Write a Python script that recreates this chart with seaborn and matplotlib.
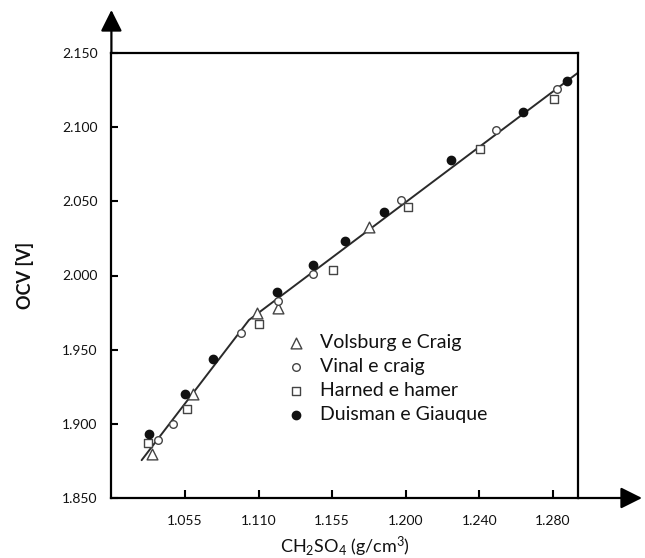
import numpy as np
import pandas as pd
import matplotlib
matplotlib.use("Agg")
import matplotlib.pyplot as plt
import seaborn as sns

# ---------------- data ----------------
X_TICKS = [1.055, 1.110, 1.155, 1.200, 1.240, 1.280]
X_TICK_LABELS = ["1.055", "1.110", "1.155", "1.200", "1.240", "1.280"]
Y_TICKS = [1.850, 1.900, 1.950, 2.000, 2.050, 2.100, 2.150]
Y_TICK_LABELS = ["1.850", "1.900", "1.950", "2.000", "2.050", "2.100", "2.150"]
X_MIN, X_MAX = 1.000, 1.2936
Y_MIN, Y_MAX = 1.850, 2.150

SERIES = ["Volsburg e Craig", "Vinal e craig", "Harned e hamer", "Duisman e Giauque"]

VOLSBURG_X = [1.0306, 1.0612, 1.1086, 1.1221, 1.1777]
VOLSBURG_Y = [1.880, 1.920, 1.975, 1.978, 2.033]
VINAL_X = [1.0350, 1.0463, 1.0966, 1.1217, 1.1434, 1.1971, 1.2488, 1.2820]
VINAL_Y = [1.889, 1.900, 1.961, 1.983, 2.001, 2.051, 2.098, 2.126]
HARNED_X = [1.0276, 1.0567, 1.1104, 1.1557, 1.2010, 1.2403, 1.2806]
HARNED_Y = [1.887, 1.910, 1.967, 2.004, 2.046, 2.085, 2.119]
DUISMAN_X = [1.0281, 1.0550, 1.0762, 1.1211, 1.1434, 1.1628, 1.1869, 1.2246, 1.2635, 1.2874]
DUISMAN_Y = [1.893, 1.920, 1.944, 1.989, 2.007, 2.023, 2.043, 2.078, 2.110, 2.131]
FIT_X = [1.0226, 1.1028, 1.2936]
FIT_Y = [1.8755, 1.970, 2.1367]

# ---------------- style ----------------
sns.set_style("white")
plt.rcParams["font.family"] = ["Lato", "DejaVu Sans"]
plt.rcParams["mathtext.fontset"] = "custom"
plt.rcParams["mathtext.rm"] = "Lato"
plt.rcParams["mathtext.it"] = "Lato:italic"
plt.rcParams["mathtext.bf"] = "Lato:bold"
TXT = "#111111"

fig = plt.figure(figsize=(6.45, 5.58), dpi=100)
ax = fig.add_axes([111.4 / 645, 1 - 498 / 558, (578 - 111.4) / 645, (498 - 53) / 558])

# evenly spaced tick scale (ticks are equidistant on the axis)
kd = np.array([X_MIN] + X_TICKS, dtype=float)
kp = np.arange(len(kd), dtype=float)


def _lin(x, a, b):
    x = np.asarray(x, dtype=float)
    y = np.interp(x, a, b)
    y = np.where(x < a[0], b[0] + (x - a[0]) * (b[1] - b[0]) / (a[1] - a[0]), y)
    y = np.where(x > a[-1], b[-1] + (x - a[-1]) * (b[-1] - b[-2]) / (a[-1] - a[-2]), y)
    return y


ax.set_xscale("function", functions=(lambda x: _lin(x, kd, kp), lambda p: _lin(p, kp, kd)))

# fit line
sns.lineplot(x=FIT_X, y=FIT_Y, ax=ax, color="#2a2a2a", linewidth=1.4, zorder=2,
             estimator=None, sort=False, legend=False)

specs = [
    (VOLSBURG_X, VOLSBURG_Y, "^", "white", "#444444", 60),
    (VINAL_X, VINAL_Y, "o", "white", "#444444", 30),
    (HARNED_X, HARNED_Y, "s", "white", "#444444", 32),
    (DUISMAN_X, DUISMAN_Y, "o", "#111111", "#111111", 36),
]
for name, (xs, ys, mk, fc, ec, s) in zip(SERIES, specs):
    df = pd.DataFrame({"x": xs, "y": ys})
    sns.scatterplot(data=df, x="x", y="y", ax=ax, marker=mk, s=s, facecolor=fc,
                    edgecolor=ec, linewidth=1.0, zorder=3, label=name)

ax.set_xlim(X_MIN, X_MAX)
ax.set_ylim(Y_MIN, Y_MAX)
ax.set_xticks(X_TICKS)
ax.set_xticklabels(X_TICK_LABELS)
ax.xaxis.set_minor_locator(matplotlib.ticker.NullLocator())
ax.set_yticks(Y_TICKS)
ax.set_yticklabels(Y_TICK_LABELS)

for sp in ax.spines.values():
    sp.set_visible(True)
    sp.set_color("black")
    sp.set_linewidth(1.6)

ax.tick_params(axis="x", direction="in", length=6, width=1.5, pad=12, labelsize=10,
               colors="black", labelcolor=TXT, bottom=True)
ax.tick_params(axis="y", direction="in", length=5, width=1.5, pad=10, labelsize=10,
               colors="black", labelcolor=TXT, left=True)

ax.set_xlabel(r"CH$_2$SO$_4$ (g/cm$^3$)", fontsize=13, color=TXT, labelpad=6)
ax.set_ylabel("OCV [V]", fontsize=13, fontweight="bold", color=TXT, labelpad=20)

# axis arrows
ax.annotate("", xy=(0, 1 + 43 / 445), xytext=(0, 1), xycoords="axes fraction",
            arrowprops=dict(arrowstyle="-|>,head_length=1.0,head_width=0.5", color="black",
                            lw=1.6, shrinkA=0, shrinkB=0, mutation_scale=13),
            annotation_clip=False)
ax.annotate("", xy=(1 + 64 / 466.6, 0), xytext=(1, 0), xycoords="axes fraction",
            arrowprops=dict(arrowstyle="-|>,head_length=1.0,head_width=0.5", color="black",
                            lw=1.6, shrinkA=0, shrinkB=0, mutation_scale=13),
            annotation_clip=False)

ax.legend(loc="upper left", bbox_to_anchor=(286 / 645, 1 - 334 / 558),
          bbox_transform=fig.transFigure, frameon=False, fontsize=14,
          handlelength=1.0, handletextpad=0.75, labelspacing=0.36,
          borderpad=0, borderaxespad=0, labelcolor=TXT)

fig.savefig("out.png", dpi=100)
